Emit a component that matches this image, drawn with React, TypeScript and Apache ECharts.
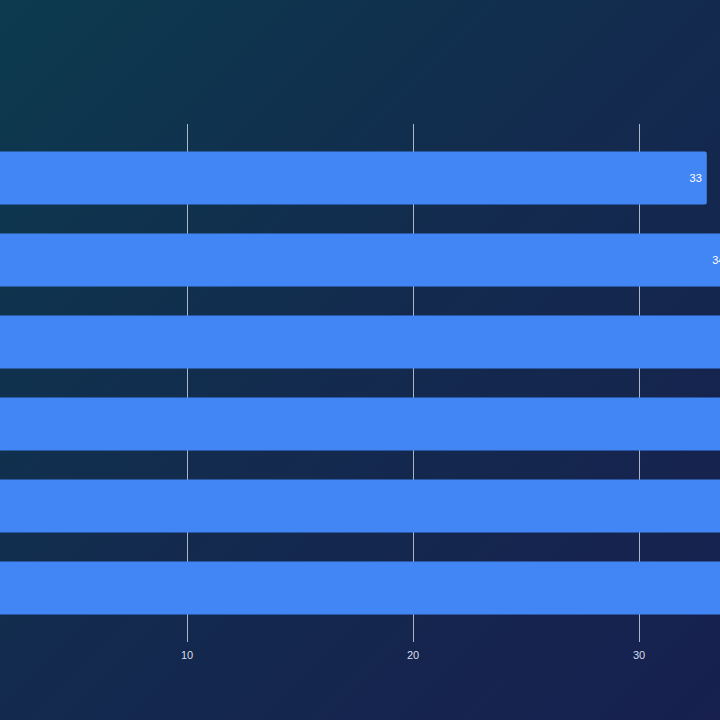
import React, { useEffect, useRef } from 'react'
import * as echarts from 'echarts'

// categories are not shown in the picture, top to bottom
const categories = ['A', 'B', 'C', 'D', 'E', 'F']
// bar values, top to bottom (only the first two labels are readable)
const values = [33, 34, 35, 36, 37, 38]
const xTicks = [0, 10, 20, 30, 40]

const App: React.FC = () => {
  const chartRef = useRef<HTMLDivElement>(null)

  useEffect(() => {
    document.body.style.margin = '0'
    if (!chartRef.current) return
    const chart = echarts.init(chartRef.current, undefined, { renderer: 'svg' })

    const gridColor = 'rgba(210,216,230,0.8)'

    chart.setOption({
      animation: false,
      backgroundColor: 'transparent',
      grid: {
        left: 0,
        right: 0,
        top: 137,
        bottom: 91,
        containLabel: false,
      },
      xAxis: [
        {
          type: 'value',
          position: 'bottom',
          min: xTicks[0],
          max: xTicks[xTicks.length - 1],
          interval: 10,
          axisLine: { show: false },
          axisTick: { show: true, length: 13, lineStyle: { color: gridColor, width: 1 } },
          axisLabel: {
            color: '#d8dde8',
            fontSize: 11,
            fontFamily: 'Liberation Sans, Arial, sans-serif',
            margin: 20,
            showMinLabel: false,
            showMaxLabel: false,
          },
          splitLine: { show: true, lineStyle: { color: gridColor, width: 1 } },
        },
        {
          type: 'value',
          position: 'top',
          min: xTicks[0],
          max: xTicks[xTicks.length - 1],
          interval: 10,
          axisLine: { show: false },
          axisTick: { show: true, length: 13, lineStyle: { color: gridColor, width: 1 } },
          axisLabel: { show: false },
          splitLine: { show: false },
        },
      ],
      yAxis: {
        type: 'category',
        data: categories,
        inverse: true,
        axisLine: { show: false },
        axisTick: { show: false },
        axisLabel: { show: false },
        splitLine: { show: false },
      },
      series: [
        {
          type: 'bar',
          data: values,
          barWidth: 53,
          z: 3,
          itemStyle: { color: '#4285f4', borderRadius: 2 },
          label: {
            show: true,
            position: 'insideRight',
            distance: 5,
            color: '#ffffff',
            fontSize: 11,
            fontFamily: 'Liberation Sans, Arial, sans-serif',
          },
        },
      ],
    })

    return () => {
      chart.dispose()
    }
  }, [])

  return (
    <div
      style={{
        width: 720,
        height: 720,
        overflow: 'hidden',
        position: 'relative',
        background: 'linear-gradient(135deg, #0c3a4e 0%, #132a4e 50%, #17204f 100%)',
      }}
    >
      <div
        ref={chartRef}
        style={{ position: 'absolute', left: -39, top: 0, width: 904, height: 720 }}
      />
    </div>
  )
}

export default App
